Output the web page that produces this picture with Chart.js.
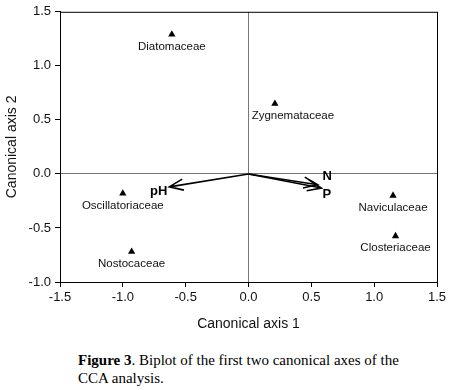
<!DOCTYPE html>
<html>
<head>
<meta charset="utf-8">
<script src="https://cdn.jsdelivr.net/npm/chart.js"></script>
<style>
  body { margin: 0; background: #fff; }
  #wrap { position: relative; width: 450px; height: 345px; }
  #caption {
    position: absolute; left: 78px; top: 351px; width: 370px;
    font-family: "Liberation Serif", "Times New Roman", serif;
    font-size: 15px; line-height: 18px; color: #000;
  }
</style>
</head>
<body>
<div id="wrap"><canvas id="myChart"></canvas></div>
<div id="caption"><b>Figure 3</b>. Biplot of the first two canonical axes of the<br>CCA analysis.</div>
<script>
// species scores (triangles)
const species = ['Diatomaceae', 'Zygnemataceae', 'Oscillatoriaceae', 'Nostocaceae', 'Naviculaceae', 'Closteriaceae'];
const axis1 = [-0.61, 0.21, -1.00, -0.93, 1.15, 1.17];
const axis2 = [1.29, 0.65, -0.18, -0.72, -0.20, -0.575];

// environmental variables (arrows from origin)
const envVars = ['pH', 'N', 'P'];
const envAxis1 = [-0.63, 0.55, 0.58];
const envAxis2 = [-0.12, -0.10, -0.13];

const xTicks = [-1.5, -1.0, -0.5, 0.0, 0.5, 1.0, 1.5];
const yTicks = [-1.0, -0.5, 0.0, 0.5, 1.0, 1.5];

// label placement tweaks (pixels)
const labelShift = { Zygnemataceae: 18 };
const envLabelPos = {
  pH: { dx: -2, dy: 5, align: 'right' },
  N: { dx: 5, dy: -8, align: 'left' },
  P: { dx: 1, dy: 6, align: 'left' }
};

const font = 'Liberation Sans, Arial, sans-serif';

const boxPlugin = {
  id: 'box',
  afterDraw(chart) {
    const { ctx, chartArea: a } = chart;
    ctx.save();
    ctx.strokeStyle = '#000';
    ctx.lineWidth = 1;
    ctx.strokeRect(a.left + 0.5, a.top + 0.5, a.right - a.left, a.bottom - a.top);
    ctx.restore();
  }
};

const labelsPlugin = {
  id: 'labels',
  afterDatasetsDraw(chart) {
    const ctx = chart.ctx;
    const meta = chart.getDatasetMeta(0);
    ctx.save();
    ctx.fillStyle = '#111';
    ctx.font = '11.5px ' + font;
    ctx.textAlign = 'center';
    ctx.textBaseline = 'middle';
    meta.data.forEach((pt, i) => {
      const s = labelShift[species[i]] || 0;
      ctx.fillText(species[i], pt.x + s, pt.y + 12);
    });
    ctx.restore();
  }
};

const arrowPlugin = {
  id: 'arrows',
  afterDatasetsDraw(chart) {
    const { ctx, scales: { x, y } } = chart;
    const ox = x.getPixelForValue(0), oy = y.getPixelForValue(0);
    ctx.save();
    ctx.strokeStyle = '#000';
    ctx.fillStyle = '#000';
    ctx.lineWidth = 1.6;
    envVars.forEach((name, i) => {
      const tx = x.getPixelForValue(envAxis1[i]);
      const ty = y.getPixelForValue(envAxis2[i]);
      const ang = Math.atan2(ty - oy, tx - ox);
      const len = 15, spread = 0.38;
      ctx.beginPath();
      ctx.moveTo(ox, oy);
      ctx.lineTo(tx, ty);
      ctx.moveTo(tx - len * Math.cos(ang - spread), ty - len * Math.sin(ang - spread));
      ctx.lineTo(tx, ty);
      ctx.lineTo(tx - len * Math.cos(ang + spread), ty - len * Math.sin(ang + spread));
      ctx.stroke();
      const p = envLabelPos[name];
      ctx.font = 'bold 13px ' + font;
      ctx.textAlign = p.align;
      ctx.textBaseline = 'middle';
      ctx.fillText(name, tx + p.dx, ty + p.dy);
    });
    ctx.restore();
  }
};

const ctx = document.getElementById('myChart').getContext('2d');
const chart = new Chart(ctx, {
  type: 'scatter',
  data: {
    datasets: [{
      data: species.map((s, i) => ({ x: axis1[i], y: axis2[i] })),
      pointStyle: 'triangle',
      pointRadius: 4.2,
      backgroundColor: '#000',
      borderColor: '#000',
      borderWidth: 0
    }]
  },
  options: {
    responsive: true,
    maintainAspectRatio: false,
    animation: false,
    layout: { padding: { top: 8, right: 13, left: 0, bottom: 0 } },
    plugins: { legend: { display: false }, tooltip: { enabled: false } },
    scales: {
      x: {
        type: 'linear',
        min: -1.5, max: 1.5,
        afterFit(s) { s.height = 63; },
        afterBuildTicks(s) { s.ticks = xTicks.map(v => ({ value: v })); },
        ticks: {
          color: '#111', padding: 3,
          font: { family: font, size: 13 },
          callback: v => v.toFixed(1)
        },
        grid: {
          color: c => (c.tick && c.tick.value === 0) ? '#777' : 'rgba(0,0,0,0)',
          tickColor: '#000', tickLength: 5, lineWidth: 1
        },
        border: { color: '#000' },
        title: {
          display: true, text: 'Canonical axis 1', color: '#111',
          font: { family: font, size: 14 },
          padding: { top: 4, bottom: 12 }
        }
      },
      y: {
        type: 'linear',
        min: -1.0, max: 1.5,
        afterFit(s) { s.width = 60; },
        afterBuildTicks(s) { s.ticks = yTicks.map(v => ({ value: v })); },
        ticks: {
          color: '#111', padding: 4,
          font: { family: font, size: 13 },
          callback: v => v.toFixed(1)
        },
        grid: {
          color: c => (c.tick && c.tick.value === 0) ? '#777' : 'rgba(0,0,0,0)',
          tickColor: '#000', tickLength: 5, lineWidth: 1
        },
        border: { color: '#000' },
        title: {
          display: true, text: 'Canonical axis 2', color: '#111',
          font: { family: font, size: 14 },
          padding: { top: 4, bottom: 4 }
        }
      }
    }
  },
  plugins: [boxPlugin, labelsPlugin, arrowPlugin]
});
</script>
</body>
</html>
